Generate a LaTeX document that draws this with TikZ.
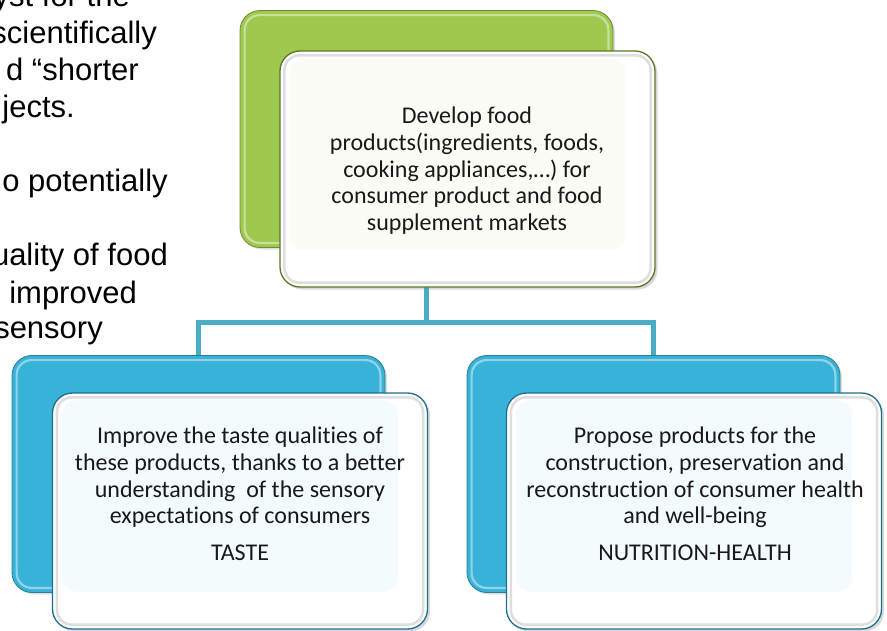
\documentclass[tikz,border=0pt]{standalone}
\usepackage{fontspec}
\setmainfont{Carlito}[Ligatures=NoCommon]
\newfontfamily\arialf{Liberation Sans}
\usetikzlibrary{shadows}
\definecolor{gback}{RGB}{158,200,78}
\definecolor{gdark}{RGB}{90,120,35}
\definecolor{bback}{RGB}{56,178,216}
\definecolor{bdark}{RGB}{28,112,142}
\definecolor{connc}{RGB}{75,172,198}
\definecolor{txt}{RGB}{25,25,25}
\begin{document}
\begin{tikzpicture}[x=1pt,y=-1pt,
  backbox/.style={rounded corners=20pt, minimum width=373pt, minimum height=237pt, inner sep=0pt,
    draw=#1!70!black, line width=0.8pt, fill=#1,
    drop shadow={opacity=0.25,shadow xshift=2pt,shadow yshift=-2pt}},
  frontbox/.style={rounded corners=20pt, minimum width=375pt, minimum height=236pt, inner sep=0pt,
    draw=#1, line width=1.3pt, fill=white,
    drop shadow={opacity=0.3,shadow xshift=2.5pt,shadow yshift=-2.5pt}},
  gloss/.style={rounded corners=15pt, draw=white, line width=2.2pt, opacity=0.45},
  bevel/.style={rounded corners=15pt, draw=black!13, line width=2.5pt},
  tintarea/.style={rounded corners=15pt, fill=#1, opacity=0.05},
  connector/.style={draw=connc, line width=5pt},
  boxtext/.style={anchor=north, align=center, inner sep=0pt, text=txt,
    font=\fontsize{24}{26.6}\selectfont},
  sideline/.style={anchor=base east, inner sep=0pt, text=black,
    font=\arialf\fontsize{31}{35}\selectfont}
]
\useasboundingbox (0,0) rectangle (887,630);
\clip (0,0) rectangle (887,630);

% side text (cut off on the left)
\node[sideline] (s1) at (130,6) {yst for the};
\node[sideline] (s2) at (157,43) {scientifically};
\node[sideline] (s3) at (139,80) {d “shorter};
\node[sideline] (s4) at (75,117) {jects.};
\node[sideline] (s5) at (168,191) {o potentially};
\node[sideline] (s6) at (168,265) {uality of food};
\node[sideline] (s7) at (137,303) {improved};
\node[sideline] (s8) at (103,338) {sensory};

% back boxes
\node[backbox=gback] (g) at (426.5,129) {};
\node[backbox=bback] (bl) at (198.5,474) {};
\node[backbox=bback] (br) at (653.5,474) {};
\foreach \n in {g,bl,br}{
  \draw[gloss] ([shift={(5pt,-5pt)}]\n.north west) rectangle ([shift={(-5pt,5pt)}]\n.south east);
}

% connectors
\coordinate (hub) at (g.south |- 0,322);
\draw[connector] (g.south) -- (hub) -| (bl.north);
\draw[connector] (hub) -| (br.north);

% front boxes
\node[frontbox=gdark] (wt) at (467.5,169) {};
\node[frontbox=bdark] (wl) at (240,511) {};
\node[frontbox=bdark] (wr) at (694,511) {};
\foreach \n/\c in {wt/gback,wl/bback,wr/bback}{
  \draw[bevel] ([shift={(5pt,-5pt)}]\n.north west) rectangle ([shift={(-5pt,5pt)}]\n.south east);
  \fill[tintarea=\c] ([shift={(10pt,-8pt)}]\n.north west) rectangle ([shift={(-30pt,38pt)}]\n.south east);
}

% texts
\node[boxtext] (tt) at (467,107) {Develop food\\products(ingredients, foods,\\cooking appliances,…) for\\consumer product and food\\supplement markets};
\node[boxtext] (tl) at (240,427) {Improve the taste qualities of\\these products, thanks to a better\\understanding\ \ of the sensory\\expectations of consumers\\[10pt]TASTE};
\node[boxtext] (tr) at (695,427) {Propose products for the\\construction, preservation and\\reconstruction of consumer health\\and well-being\\[10pt]NUTRITION-HEALTH};
\end{tikzpicture}
\end{document}
